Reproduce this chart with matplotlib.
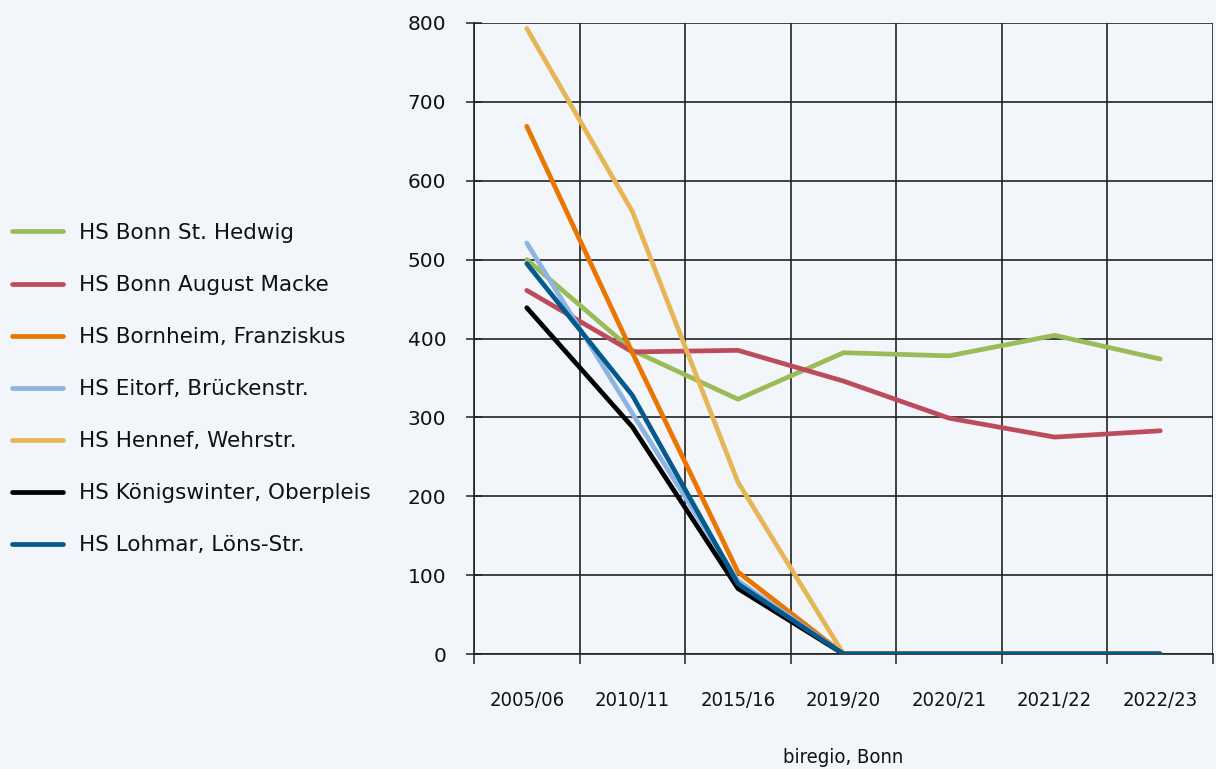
import matplotlib
matplotlib.use("Agg")
import matplotlib.pyplot as plt
from matplotlib.ticker import FixedLocator

categories = ["2005/06", "2010/11", "2015/16", "2019/20", "2020/21", "2021/22", "2022/23"]

hedwig = [500, 385, 323, 382, 378, 404, 374]
macke = [461, 383, 385, 346, 299, 275, 283]
bornheim = [669, 382, 104, 0, 0, 0, 0]
eitorf = [521, 305, 93, 0, 0, 0, 0]
hennef = [793, 561, 218, 0, 0, 0, 0]
koenigswinter = [439, 288, 83, 0, 0, 0, 0]
lohmar = [495, 328, 89, 0, 0, 0, 0]

series_names = [
    "HS Bonn St. Hedwig",
    "HS Bonn August Macke",
    "HS Bornheim, Franziskus",
    "HS Eitorf, Brückenstr.",
    "HS Hennef, Wehrstr.",
    "HS Königswinter, Oberpleis",
    "HS Lohmar, Löns-Str.",
]
series_values = [hedwig, macke, bornheim, eitorf, hennef, koenigswinter, lohmar]
colors = ["#9BBB59", "#BE4B5B", "#E87600", "#8DB4E2", "#E6B656", "#000000", "#045A8D"]

y_ticks = [0, 100, 200, 300, 400, 500, 600, 700, 800]

bg = "#F2F5F9"
plt.rcParams["font.family"] = ["DejaVu Sans"]

fig = plt.figure(figsize=(12.16, 7.69), dpi=100, facecolor=bg)
ax = fig.add_axes([474 / 1216, 1 - 654 / 769, (1213 - 474) / 1216, (654 - 23) / 769])
ax.set_facecolor(bg)

x = list(range(len(categories)))
for name, vals, c in zip(series_names, series_values, colors):
    ax.plot(x, vals, color=c, lw=3.4, label=name, solid_capstyle="round",
            solid_joinstyle="round", zorder=3)

ax.set_xlim(-0.5, len(categories) - 0.5)
ax.set_ylim(0, 800)

# category labels
ax.set_xticks(x)
ax.set_xticklabels(categories, fontsize=14.5, fontstretch="condensed")
ax.tick_params(axis="x", which="major", length=0, pad=27, colors="#111111")
ax.xaxis.set_minor_locator(FixedLocator([i - 0.5 for i in range(len(categories) + 1)]))
ax.tick_params(axis="x", which="minor", length=7, width=1.1, direction="out", color="#222222")

ax.set_yticks(y_ticks)
ax.set_yticklabels([str(v) for v in y_ticks], fontsize=14.5)
ax.tick_params(axis="y", which="major", length=12, width=1.1, direction="inout",
               color="#222222", pad=14, labelcolor="#111111")

ax.grid(True, axis="y", which="major", color="#222222", lw=1.2, zorder=1)
ax.grid(True, axis="x", which="minor", color="#222222", lw=1.2, zorder=1)
ax.grid(False, axis="x", which="major")

for s in ["top", "right"]:
    ax.spines[s].set_visible(False)
ax.spines["left"].set_color("#222222")
ax.spines["left"].set_linewidth(1.2)
ax.spines["bottom"].set_color("#222222")
ax.spines["bottom"].set_linewidth(1.2)

ax.set_xlabel("biregio, Bonn", fontsize=14.5, fontstretch="condensed",
              labelpad=27, color="#111111")

handles, labels = ax.get_legend_handles_labels()
leg = fig.legend(handles, labels, loc="upper left", bbox_to_anchor=(12 / 1216, 1 - 223 / 769),
                 frameon=False, fontsize=15.5, handlelength=2.35, handletextpad=0.78,
                 labelspacing=1.49, borderaxespad=0.0, borderpad=0.0)
for line in leg.get_lines():
    line.set_linewidth(3.4)
for t in leg.get_texts():
    t.set_color("#111111")

fig.savefig("out.png", dpi=100, facecolor=bg)
